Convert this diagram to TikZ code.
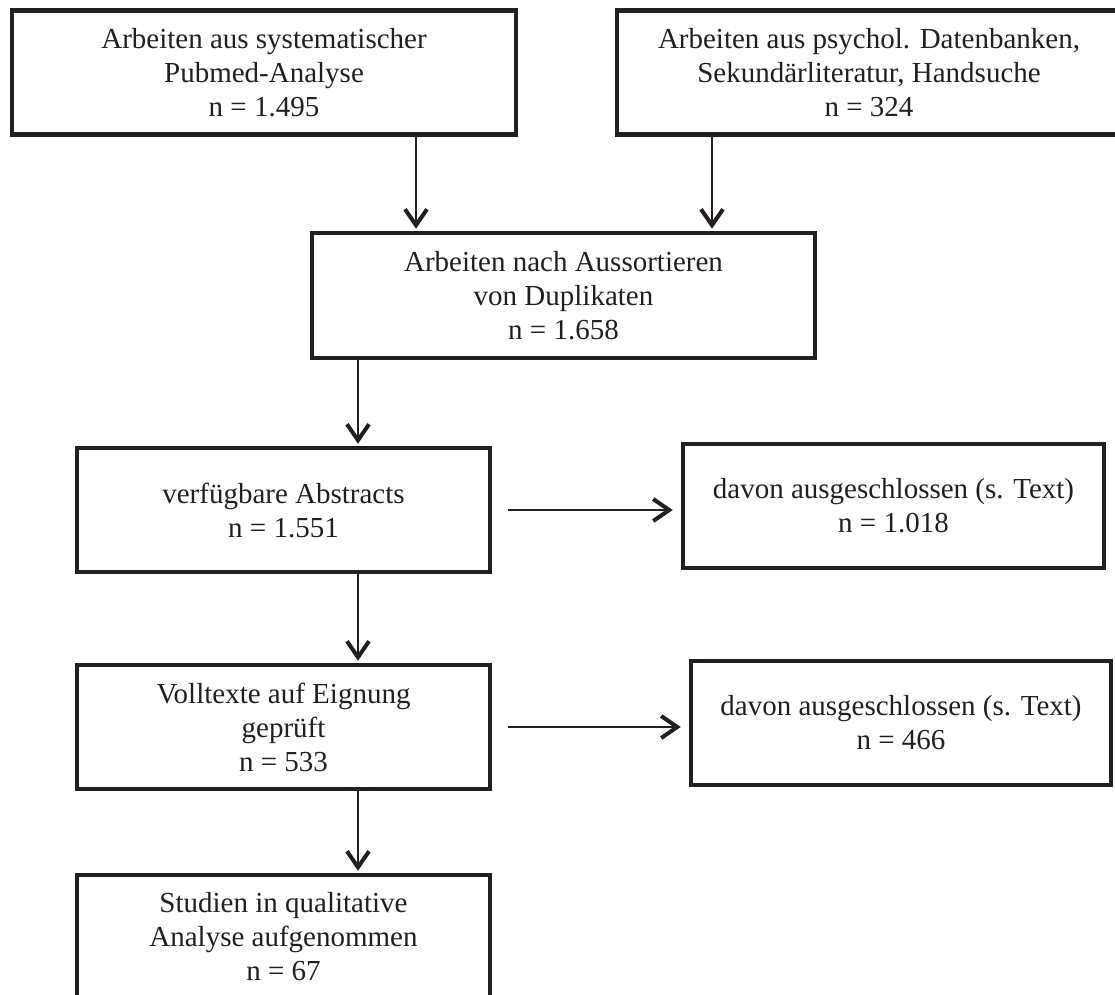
\documentclass[tikz,border=0pt]{standalone}
\usepackage{fontspec}
\setmainfont{Liberation Serif}
\usetikzlibrary{arrows.meta}
\definecolor{ink}{HTML}{231F20}
\begin{document}
\begin{tikzpicture}[x=1pt,y=1pt,
  box/.style={draw=ink, line width=4.5pt, text=ink, align=center,
    font=\fontsize{29}{34}\selectfont, inner sep=0pt, minimum height=124pt},
  arr/.style={draw=ink, line width=2pt,
    -{Straight Barb[length=16pt,width=22pt,line width=4pt]}}]
\useasboundingbox (0,0) rectangle (1115,-994);
\clip (0,0) rectangle (1115,-994);
\fill[white] (0,0) rectangle (1115,-994);

\node[box, minimum width=504pt] (b1) at (264,-72.5)
  {Arbeiten aus systematischer\\Pubmed-Analyse\\n = 1.495};
\node[box, minimum width=504pt] (b2) at (869,-72.5)
  {Arbeiten aus psychol. Datenbanken,\\Sekundärliteratur, Handsuche\\n = 324};
\node[box, minimum width=503pt, minimum height=125pt] (b3) at (563.5,-295.5)
  {Arbeiten nach Aussortieren\\von Duplikaten\\n = 1.658};
\node[box, minimum width=413pt] (b4) at (283.5,-510)
  {verfügbare Abstracts\\n = 1.551};
\node[box, minimum width=421pt] (b5) at (893.5,-506)
  {davon ausgeschlossen (s. Text)\\n = 1.018};
\node[box, minimum width=413pt] (b6) at (283.5,-727)
  {Volltexte auf Eignung\\geprüft\\n = 533};
\node[box, minimum width=420pt] (b7) at (901,-723)
  {davon ausgeschlossen (s. Text)\\n = 466};
\node[box, minimum width=413pt] (b8) at (283.5,-937)
  {Studien in qualitative\\Analyse aufgenommen\\n = 67};

\coordinate (c1) at (416,0);
\coordinate (c2) at (712,0);
\coordinate (c3) at (358,0);

\draw[arr, shorten >=2pt] (b1.south -| c1) -- (b3.north -| c1);
\draw[arr, shorten >=2pt] (b2.south -| c2) -- (b3.north -| c2);
\draw[arr, shorten >=2pt] (b3.south -| c3) -- (b4.north -| c3);
\draw[arr, shorten >=2pt] (b4.south -| c3) -- (b6.north -| c3);
\draw[arr, shorten >=2pt] (b6.south -| c3) -- (b8.north -| c3);
\draw[arr, shorten <=16pt, shorten >=8pt] (b4.east) -- (b4.east -| b5.west);
\draw[arr, shorten <=16pt, shorten >=8pt] (b6.east) -- (b6.east -| b7.west);
\end{tikzpicture}
\end{document}
